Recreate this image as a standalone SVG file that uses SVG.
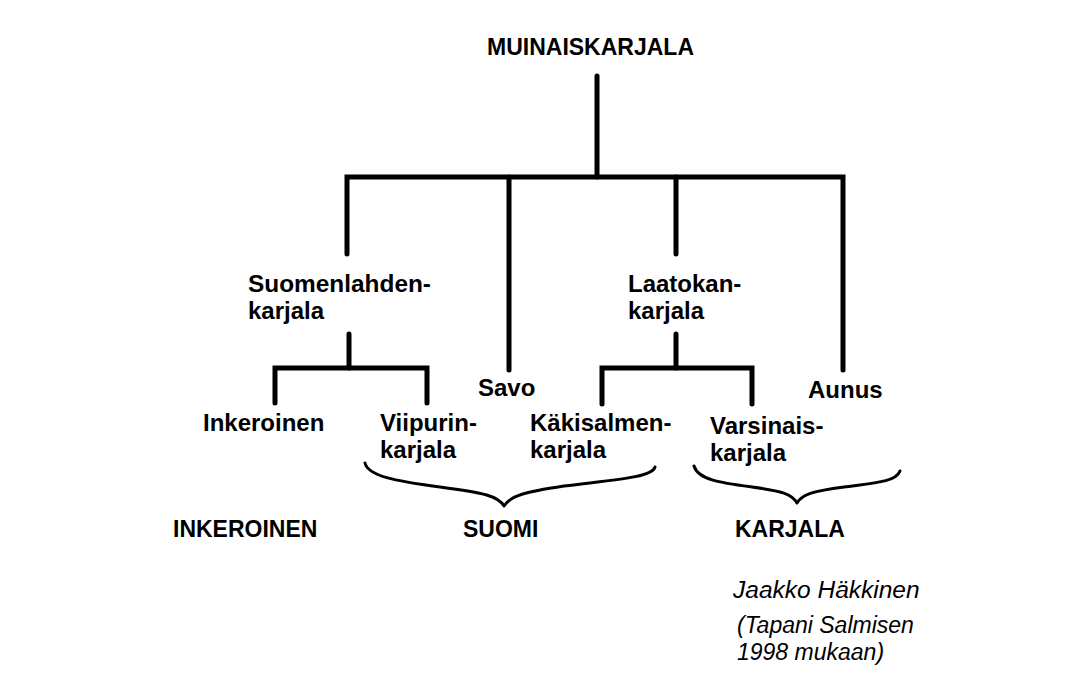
<svg xmlns="http://www.w3.org/2000/svg" width="1079" height="680" viewBox="0 0 1079 680">
<style>
.b{font-family:"Liberation Sans",Arial,sans-serif;font-weight:bold;font-size:24px;fill:#000}
.c{font-family:"Liberation Sans",Arial,sans-serif;font-weight:bold;font-size:23px;fill:#000}
.i{font-family:"Liberation Sans",Arial,sans-serif;font-style:italic;font-size:23px;fill:#000}
.ln{fill:none;stroke:#000;stroke-width:5;stroke-linecap:round;stroke-linejoin:miter}
.br{fill:none;stroke:#000;stroke-width:3;stroke-linecap:round;stroke-linejoin:round}
</style>
<rect width="1079" height="680" fill="#fff"/>
<g id="connectors">
<line class="ln" x1="597" y1="76" x2="597" y2="177"/>
<polyline class="ln" points="347,254 347,177 843,177 843,370"/>
<line class="ln" x1="509" y1="177" x2="509" y2="370"/>
<line class="ln" x1="676" y1="177" x2="676" y2="254"/>
<line class="ln" x1="349" y1="334" x2="349" y2="368"/>
<polyline class="ln" points="275,403 275,368 427,368 427,403"/>
<line class="ln" x1="676" y1="334" x2="676" y2="368"/>
<polyline class="ln" points="602,404 602,368 752,368 752,404"/>
<path class="br" d="M365,463 C368,476 395,481 440,487 C485,493 498,496 504,506 C510,496 524,492 564,486 C610,480 652,478 655,467"/>
<path class="br" d="M694,466 C698,480 722,483 752,487 C782,491 792,494 797,503 C802,494 814,491 844,487 C874,483 896,482 900,471"/>
</g>
<g id="muinaiskarjala"><text class="c" x="487" y="55">MUINAISKARJALA</text></g>
<g id="suomenlahdenkarjala"><text class="b" x="248" y="292" textLength="183" lengthAdjust="spacingAndGlyphs">Suomenlahden-</text><text class="b" x="248" y="319">karjala</text></g>
<g id="savo"><text class="b" x="478" y="396">Savo</text></g>
<g id="laatokankarjala"><text class="b" x="628" y="292">Laatokan-</text><text class="b" x="628" y="319">karjala</text></g>
<g id="aunus"><text class="b" x="808" y="398">Aunus</text></g>
<g id="inkeroinen"><text class="b" x="203" y="431">Inkeroinen</text></g>
<g id="viipurinkarjala"><text class="b" x="380" y="431">Viipurin-</text><text class="b" x="380" y="458">karjala</text></g>
<g id="kakisalmenkarjala"><text class="b" x="530" y="431">Käkisalmen-</text><text class="b" x="530" y="458">karjala</text></g>
<g id="varsinaiskarjala"><text class="b" x="710" y="434">Varsinais-</text><text class="b" x="710" y="461">karjala</text></g>
<g id="group-inkeroinen"><text class="c" x="173" y="537">INKEROINEN</text></g>
<g id="group-suomi"><text class="c" x="463" y="537">SUOMI</text></g>
<g id="group-karjala"><text class="c" x="735" y="537">KARJALA</text></g>
<g id="credit"><text class="i" x="733" y="598" style="font-size:24.5px">Jaakko Häkkinen</text><text class="i" x="737" y="633">(Tapani Salmisen</text><text class="i" x="737" y="660">1998 mukaan)</text></g>
</svg>
